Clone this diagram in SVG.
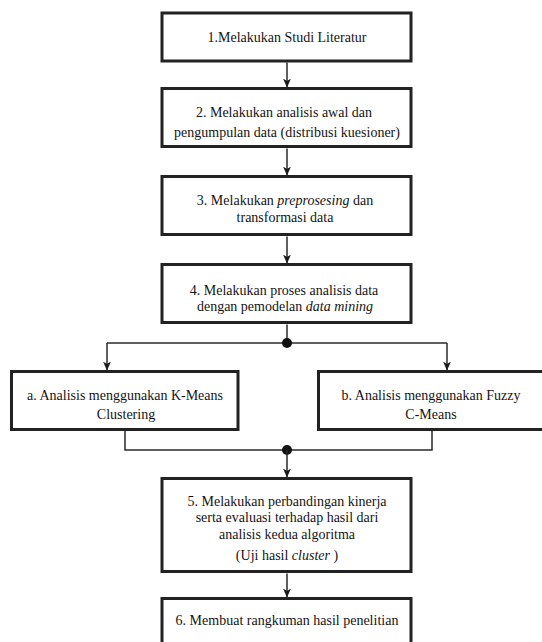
<svg xmlns="http://www.w3.org/2000/svg" width="542" height="642" viewBox="0 0 542 642">
<style>
.box{fill:#fff;stroke:#222;stroke-width:3}
.t{font-family:"Liberation Serif","Times New Roman",serif;font-size:14px;fill:#141414;text-anchor:middle}
.i{font-style:italic}
.c{fill:none;stroke:#2a2a2a;stroke-width:1.5}
.dot{fill:#111}
</style>
<defs>
<marker id="ah" markerUnits="userSpaceOnUse" markerWidth="9" markerHeight="10" refX="8.5" refY="4" orient="auto">
<path d="M0,0 L9,4 L0,8 L2.5,4 z" fill="#1a1a1a"/>
</marker>
</defs>
<rect width="542" height="642" fill="#fff"/>
<g id="connectors">
<line class="c" x1="287" y1="62.5" x2="287" y2="87" marker-end="url(#ah)"/>
<line class="c" x1="287" y1="148.5" x2="287" y2="175" marker-end="url(#ah)"/>
<line class="c" x1="287" y1="236.5" x2="287" y2="263" marker-end="url(#ah)"/>
<line class="c" x1="287" y1="324.5" x2="287" y2="343"/>
<polyline class="c" points="107,343 447,343"/>
<line class="c" x1="107" y1="343" x2="107" y2="370" marker-end="url(#ah)"/>
<line class="c" x1="447" y1="343" x2="447" y2="370" marker-end="url(#ah)"/>
<circle class="dot" cx="287" cy="343" r="5"/>
<polyline class="c" points="125,431 125,450 432,450 432,431"/>
<circle class="dot" cx="287" cy="450" r="5"/>
<line class="c" x1="287" y1="450" x2="287" y2="477" marker-end="url(#ah)"/>
<line class="c" x1="287" y1="573.5" x2="287" y2="597" marker-end="url(#ah)"/>
</g>
<g id="n1">
<rect class="box" x="162" y="13" width="249" height="48"/>
<text class="t" x="287" y="42">1.Melakukan Studi Literatur</text>
</g>
<g id="n2">
<rect class="box" x="162" y="88.5" width="249" height="58"/>
<text class="t" x="284" y="117">2. Melakukan analisis awal dan</text>
<text class="t" x="287" y="137">pengumpulan data (distribusi kuesioner)</text>
</g>
<g id="n3">
<rect class="box" x="162" y="176.5" width="249" height="58"/>
<text class="t" x="285" y="205">3. Melakukan <tspan class="i">preprosesing</tspan> dan</text>
<text class="t" x="285" y="222">transformasi data</text>
</g>
<g id="n4">
<rect class="box" x="162" y="264.5" width="249" height="58"/>
<text class="t" x="284" y="295">4. Melakukan proses analisis data</text>
<text class="t" x="285" y="311">dengan pemodelan <tspan class="i">data mining</tspan></text>
</g>
<g id="na">
<rect class="box" x="11.5" y="371.5" width="226.5" height="58"/>
<text class="t" x="125" y="400">a. Analisis menggunakan K-Means</text>
<text class="t" x="126" y="419">Clustering</text>
</g>
<g id="nb">
<rect class="box" x="318.5" y="371.5" width="226" height="58"/>
<text class="t" x="431" y="400">b. Analisis menggunakan Fuzzy</text>
<text class="t" x="431" y="419">C-Means</text>
</g>
<g id="n5">
<rect class="box" x="162" y="478.5" width="249" height="93"/>
<text class="t" x="287" y="506">5. Melakukan perbandingan kinerja</text>
<text class="t" x="287" y="522">serta evaluasi terhadap hasil dari</text>
<text class="t" x="287" y="539">analisis kedua algoritma</text>
<text class="t" x="287" y="560">(Uji hasil <tspan class="i">cluster</tspan> )</text>
</g>
<g id="n6">
<rect class="box" x="162" y="598.5" width="249" height="50"/>
<text class="t" x="287" y="625">6. Membuat rangkuman hasil penelitian</text>
</g>
</svg>
